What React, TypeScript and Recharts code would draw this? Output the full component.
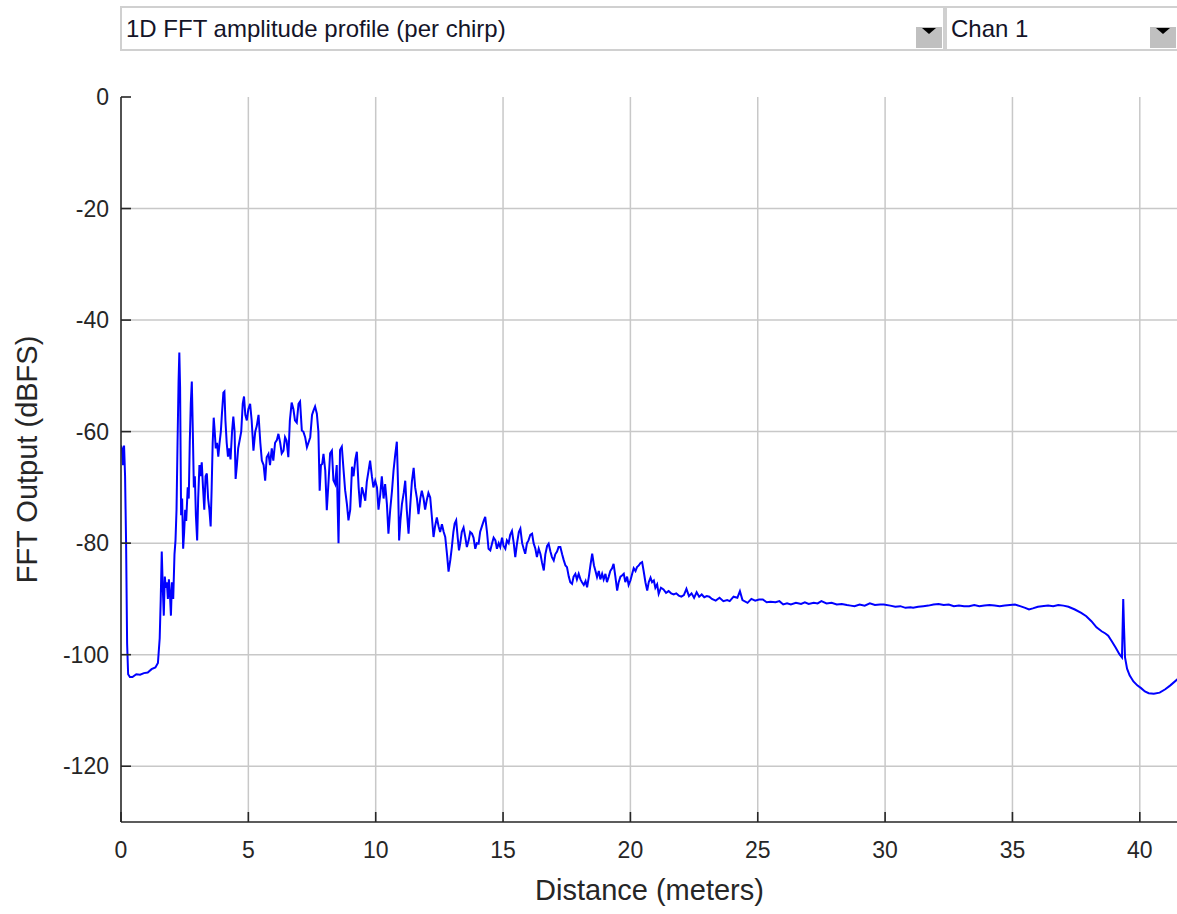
import { LineChart, Line, XAxis, YAxis, CartesianGrid, Label } from 'recharts'

const PROFILE_TITLE = '1D FFT amplitude profile (per chirp)'
const CHANNEL = 'Chan 1'
const X_TITLE = 'Distance (meters)'
const Y_TITLE = 'FFT Output (dBFS)'
const X_TICKS = [0, 5, 10, 15, 20, 25, 30, 35, 40]
const Y_TICKS = [0, -20, -40, -60, -80, -100, -120]
const X_GRID = [5, 10, 15, 20, 25, 30, 35, 40]
const Y_GRID = [-20, -40, -60, -80, -100, -120]

// [distance m, amplitude dBFS]
const NEAR_RANGE: [number, number][] = [
  [0, -62.5], [0.04, -63], [0.08, -66], [0.12, -62.5], [0.16, -68], [0.2, -80],
  [0.24, -98], [0.28, -103.5], [0.35, -104], [0.45, -104], [0.6, -103.5], [0.75, -103.6],
  [0.9, -103.3], [1.05, -103.2], [1.2, -102.6], [1.35, -102.3], [1.45, -101.5], [1.52, -97],
  [1.56, -90], [1.6, -81.5], [1.64, -88], [1.68, -93], [1.72, -86], [1.76, -88],
  [1.8, -87], [1.84, -90], [1.88, -86.5], [1.92, -89], [1.96, -93], [2.0, -87],
  [2.05, -90], [2.1, -82], [2.14, -79.5], [2.18, -74], [2.22, -62], [2.26, -51],
  [2.29, -45.8], [2.32, -52], [2.36, -75], [2.4, -72], [2.44, -81], [2.48, -78],
  [2.52, -74], [2.56, -76], [2.62, -70], [2.66, -72], [2.7, -62], [2.74, -55],
  [2.78, -51], [2.82, -60], [2.86, -70], [2.9, -68], [2.94, -75], [2.99, -79.5],
  [3.03, -72], [3.08, -66], [3.12, -68], [3.17, -65.5], [3.22, -70], [3.27, -74],
  [3.32, -68], [3.37, -67.5], [3.42, -72], [3.47, -74], [3.52, -77], [3.56, -70],
  [3.6, -62], [3.64, -57.5], [3.68, -60], [3.72, -63], [3.77, -62], [3.82, -64.5],
  [3.87, -62], [3.92, -60], [3.96, -57], [4.02, -53], [4.06, -52.8], [4.1, -58],
  [4.15, -62], [4.2, -64.5], [4.25, -63], [4.3, -65], [4.36, -60], [4.41, -57.3],
  [4.46, -60], [4.5, -68.5], [4.55, -66], [4.6, -63], [4.66, -61.5], [4.72, -60],
  [4.78, -55], [4.83, -53.7], [4.88, -57], [4.94, -58], [5.0, -56], [5.07, -55],
  [5.13, -58], [5.2, -63.4], [5.27, -60], [5.33, -59], [5.4, -57], [5.47, -62],
  [5.53, -65.2], [5.6, -66], [5.66, -68.8], [5.72, -64.6], [5.79, -64], [5.85, -66],
  [5.92, -63], [5.98, -65.2], [6.05, -62], [6.12, -61.5], [6.18, -60.4], [6.25, -62],
  [6.31, -63.9], [6.38, -63.4], [6.44, -61], [6.5, -61.6], [6.57, -64.6], [6.63, -58],
  [6.7, -54.8], [6.77, -56], [6.83, -58], [6.9, -58.4], [6.97, -55], [7.03, -54.6],
  [7.1, -59.8], [7.16, -60], [7.23, -61], [7.3, -62.8], [7.36, -62], [7.43, -61],
  [7.5, -57], [7.56, -56.2], [7.62, -55.5], [7.69, -56.8], [7.75, -60], [7.8, -70.6],
  [7.85, -66], [7.9, -65.8], [7.95, -64], [8.02, -67], [8.08, -74.1], [8.15, -68.8],
  [8.21, -63.9], [8.28, -63.4], [8.34, -68.7], [8.41, -69.4], [8.47, -66], [8.54, -80],
  [8.6, -63.3], [8.67, -62.7], [8.74, -67], [8.8, -70.5], [8.87, -73], [8.93, -75.9],
  [9.0, -74], [9.07, -66.3], [9.13, -68], [9.2, -65], [9.26, -63.6], [9.33, -70],
  [9.39, -73.6], [9.46, -70], [9.52, -71], [9.59, -72.4], [9.65, -69], [9.72, -67],
  [9.78, -65.2], [9.85, -68], [9.91, -70], [9.98, -68.8], [10.05, -70], [10.11, -74],
  [10.18, -71.2], [10.24, -68], [10.31, -72], [10.37, -69.4], [10.44, -73], [10.5, -78.3],
  [10.57, -74], [10.64, -70.6], [10.7, -67], [10.77, -64], [10.83, -61.8], [10.88, -70],
  [10.92, -79.5], [10.97, -76], [11.03, -73], [11.1, -71], [11.16, -68.8], [11.22, -74],
  [11.29, -78.3], [11.36, -73], [11.42, -69], [11.49, -66.5], [11.55, -70], [11.62, -72],
  [11.68, -74.8], [11.75, -72], [11.81, -70.6], [11.88, -72], [11.94, -74], [12.0, -72.4],
  [12.07, -71], [12.14, -71.8], [12.2, -75], [12.27, -78.9], [12.33, -77], [12.4, -75.4],
  [12.47, -77], [12.53, -78], [12.6, -76.6], [12.67, -78],
]

const MID_RANGE: [number, number][] = [
  [12.73, -78.9], [12.8, -82], [12.86, -85.1], [12.93, -83], [12.99, -80.7], [13.05, -78],
  [13.1, -76.5], [13.16, -75.9], [13.22, -79], [13.27, -81.3], [13.32, -80], [13.38, -78],
  [13.45, -77.2], [13.52, -79], [13.58, -80.7], [13.65, -79.5], [13.71, -78], [13.78, -78.3],
  [13.84, -79], [13.91, -81], [13.97, -80], [14.04, -80.1], [14.1, -78], [14.17, -77],
  [14.24, -76], [14.3, -75.3], [14.37, -78], [14.43, -81], [14.5, -81.3], [14.57, -80],
  [14.63, -79], [14.7, -79.5], [14.76, -81], [14.83, -80], [14.89, -80.7], [14.96, -79],
  [15.02, -80.5], [15.09, -81], [15.15, -79.5], [15.22, -80], [15.28, -78.5], [15.35, -77.8],
  [15.42, -80], [15.48, -82.5], [15.55, -80], [15.62, -78], [15.68, -77.4], [15.75, -80],
  [15.81, -81], [15.87, -81.9], [15.94, -80], [16.0, -79.5], [16.07, -78.5], [16.14, -78.3],
  [16.2, -80], [16.27, -81], [16.33, -82.5], [16.4, -81], [16.47, -82], [16.53, -83.5],
  [16.6, -84.9], [16.66, -82], [16.73, -80.5], [16.79, -80.1], [16.86, -81.5], [16.92, -82.5],
  [16.99, -83.1], [17.05, -82], [17.12, -81.5], [17.18, -80.7], [17.25, -80.7], [17.32, -82],
  [17.38, -83], [17.45, -84], [17.51, -84.3], [17.58, -86], [17.64, -87], [17.71, -87.3],
  [17.77, -86], [17.84, -85.5], [17.9, -86.5], [17.97, -85.5], [18.04, -86.5], [18.1, -87],
  [18.17, -87.5], [18.24, -86.8], [18.3, -87.9], [18.37, -86], [18.43, -84], [18.5, -81.9],
  [18.57, -84], [18.63, -85], [18.69, -86.1], [18.76, -85], [18.82, -86.5], [18.89, -85.5],
  [18.95, -86.5], [19.02, -85.5], [19.08, -87], [19.15, -86], [19.21, -85], [19.28, -84.5],
  [19.34, -83.7], [19.41, -86], [19.48, -88.5], [19.54, -87], [19.61, -86], [19.67, -85.8],
  [19.74, -85.5], [19.8, -87], [19.87, -86], [19.93, -87.5], [20.0, -86.7], [20.07, -85.5],
  [20.13, -84.5], [20.2, -85], [20.26, -84.3], [20.33, -84], [20.39, -83.6], [20.46, -83.4],
  [20.52, -85], [20.59, -87], [20.66, -88.5], [20.72, -87], [20.79, -86.2], [20.85, -87],
  [20.92, -86.7], [20.98, -88], [21.05, -87.4],
]

const FAR_RANGE: [number, number][] = [
  [21.11, -89.1], [21.2, -88], [21.3, -88.3], [21.4, -88.9], [21.5, -88.6], [21.6, -89],
  [21.7, -89.2], [21.8, -89], [21.9, -89.4], [22.0, -89.6], [22.1, -89.3], [22.2, -88.2],
  [22.3, -89.5], [22.4, -89], [22.5, -89.8], [22.6, -88.8], [22.7, -89.6], [22.8, -89.2],
  [22.9, -89.7], [23.0, -89.5], [23.1, -89.6], [23.2, -90], [23.35, -90.3], [23.5, -89.8],
  [23.65, -90.4], [23.8, -90.2], [23.9, -90.4], [24.05, -89.6], [24.2, -89.8], [24.3, -88.6],
  [24.4, -90.2], [24.6, -90.7], [24.75, -90], [24.9, -90.3], [25.05, -90.1], [25.2, -90.1],
  [25.35, -90.6], [25.5, -90.5], [25.7, -90.6], [25.85, -90.4], [26.0, -91], [26.15, -90.8],
  [26.3, -91], [26.5, -90.7], [26.7, -90.9], [26.85, -90.6], [27.0, -90.9], [27.2, -90.7],
  [27.35, -90.8], [27.5, -90.4], [27.7, -90.8], [27.9, -90.7], [28.1, -91], [28.3, -90.9],
  [28.5, -91.1], [28.65, -91.2], [28.8, -91.3], [29.0, -91], [29.2, -91.2], [29.4, -90.8],
  [29.6, -91.1], [29.8, -91], [29.95, -91], [30.2, -91.2], [30.4, -91.4], [30.6, -91.3],
  [30.8, -91.6], [31.0, -91.5], [31.1, -91.6], [31.3, -91.4], [31.5, -91.3], [31.7, -91.2],
  [31.9, -91], [32.1, -90.9], [32.3, -91.1], [32.5, -91], [32.7, -91.3], [32.9, -91.2],
  [33.1, -91.3], [33.3, -91.3], [33.5, -91.1], [33.7, -91.3], [33.9, -91.2], [34.1, -91.1],
  [34.3, -91.2], [34.5, -91.3], [34.7, -91.2], [34.9, -91.1], [35.1, -91], [35.3, -91.3],
  [35.5, -91.6], [35.65, -91.9], [35.8, -91.7], [36.0, -91.4], [36.15, -91.3], [36.4, -91.2],
  [36.6, -91.3], [36.8, -91.1], [37.0, -91.2], [37.2, -91.4], [37.45, -91.9], [37.7, -92.5],
  [37.9, -93.1], [38.1, -94], [38.3, -95.1], [38.5, -95.8], [38.65, -96.2], [38.76, -96.6],
  [38.9, -97.6], [39.05, -98.7], [39.2, -99.9], [39.3, -100.5], [39.35, -90], [39.38, -95],
  [39.42, -100.5], [39.5, -102.5], [39.6, -103.7], [39.75, -104.8], [39.9, -105.5], [40.05, -106],
  [40.2, -106.6], [40.35, -106.9], [40.55, -107], [40.78, -106.8], [41.0, -106.2], [41.2, -105.5],
  [41.5, -104.3],
]

const data = [...NEAR_RANGE, ...MID_RANGE, ...FAR_RANGE].map(([d, v]) => ({ d, v }))

const FONT = 'Arial, "Liberation Sans", sans-serif'
const AXIS_COLOR = '#262626'

function Dropdown({ left, width, text }: { left: number; width: number; text: string }) {
  return (
    <div
      style={{
        position: 'absolute',
        left,
        top: 6,
        width,
        height: 45,
        boxSizing: 'border-box',
        border: '2px solid #d0d0d0',
        background: '#fff',
      }}
    >
      <div
        style={{
          position: 'absolute',
          left: 4,
          top: 9,
          fontFamily: FONT,
          fontSize: 24,
          lineHeight: '24px',
          color: '#141428',
          whiteSpace: 'nowrap',
        }}
      >
        {text}
      </div>
      <div style={{ position: 'absolute', right: 1, top: 19, width: 26, height: 21, background: '#c0c0c0' }} />
      <div
        style={{
          position: 'absolute',
          right: 7,
          top: 20,
          width: 0,
          height: 0,
          borderLeft: '7px solid transparent',
          borderRight: '7px solid transparent',
          borderTop: '6px solid #000',
        }}
      />
    </div>
  )
}

export default function App() {
  return (
    <div style={{ position: 'absolute', left: 0, top: 0, width: 1177, height: 914, overflow: 'hidden', background: '#fff' }}>
      <Dropdown left={120} width={825} text={PROFILE_TITLE} />
      <Dropdown left={945} width={234} text={CHANNEL} />
      <div style={{ position: 'absolute', left: 0, top: 0 }}>
        <LineChart width={1190} height={914} data={data} margin={{ top: 97, right: 7, bottom: 0, left: 0 }}>
          <CartesianGrid
            stroke="#c8c8c8"
            strokeWidth={1.5}
            horizontalValues={Y_GRID}
            verticalValues={X_GRID}
          />
          <XAxis
            dataKey="d"
            type="number"
            domain={[0, 41.5]}
            ticks={X_TICKS}
            interval={0}
            allowDataOverflow
            height={92}
            tickSize={-10}
            tickMargin={30}
            tick={{ fill: AXIS_COLOR, fontSize: 23, fontFamily: FONT }}
            axisLine={{ stroke: AXIS_COLOR, strokeWidth: 1.6 }}
            tickLine={{ stroke: AXIS_COLOR, strokeWidth: 1.6 }}
          >
            <Label
              value={X_TITLE}
              position="insideBottom"
              offset={14}
              style={{ fill: AXIS_COLOR, fontSize: 29, fontFamily: FONT }}
            />
          </XAxis>
          <YAxis
            domain={[-130, 0]}
            ticks={Y_TICKS}
            interval={0}
            allowDataOverflow
            width={121}
            tickSize={-10}
            tickMargin={22}
            tick={{ fill: AXIS_COLOR, fontSize: 23, fontFamily: FONT }}
            axisLine={{ stroke: AXIS_COLOR, strokeWidth: 1.6 }}
            tickLine={{ stroke: AXIS_COLOR, strokeWidth: 1.6 }}
          >
            <Label
              value={Y_TITLE}
              angle={-90}
              position="insideLeft"
              offset={27}
              style={{ fill: AXIS_COLOR, fontSize: 29, fontFamily: FONT, textAnchor: 'middle' }}
            />
          </YAxis>
          <YAxis
            yAxisId="right"
            orientation="right"
            domain={[-130, 0]}
            ticks={Y_TICKS}
            interval={0}
            width={5}
            tick={false}
            tickSize={-10}
            axisLine={{ stroke: AXIS_COLOR, strokeWidth: 1.6 }}
            tickLine={{ stroke: AXIS_COLOR, strokeWidth: 1.6 }}
          />
          <Line
            type="linear"
            dataKey="v"
            stroke="#0000ff"
            strokeWidth={2}
            dot={false}
            isAnimationActive={false}
          />
        </LineChart>
      </div>
    </div>
  )
}
